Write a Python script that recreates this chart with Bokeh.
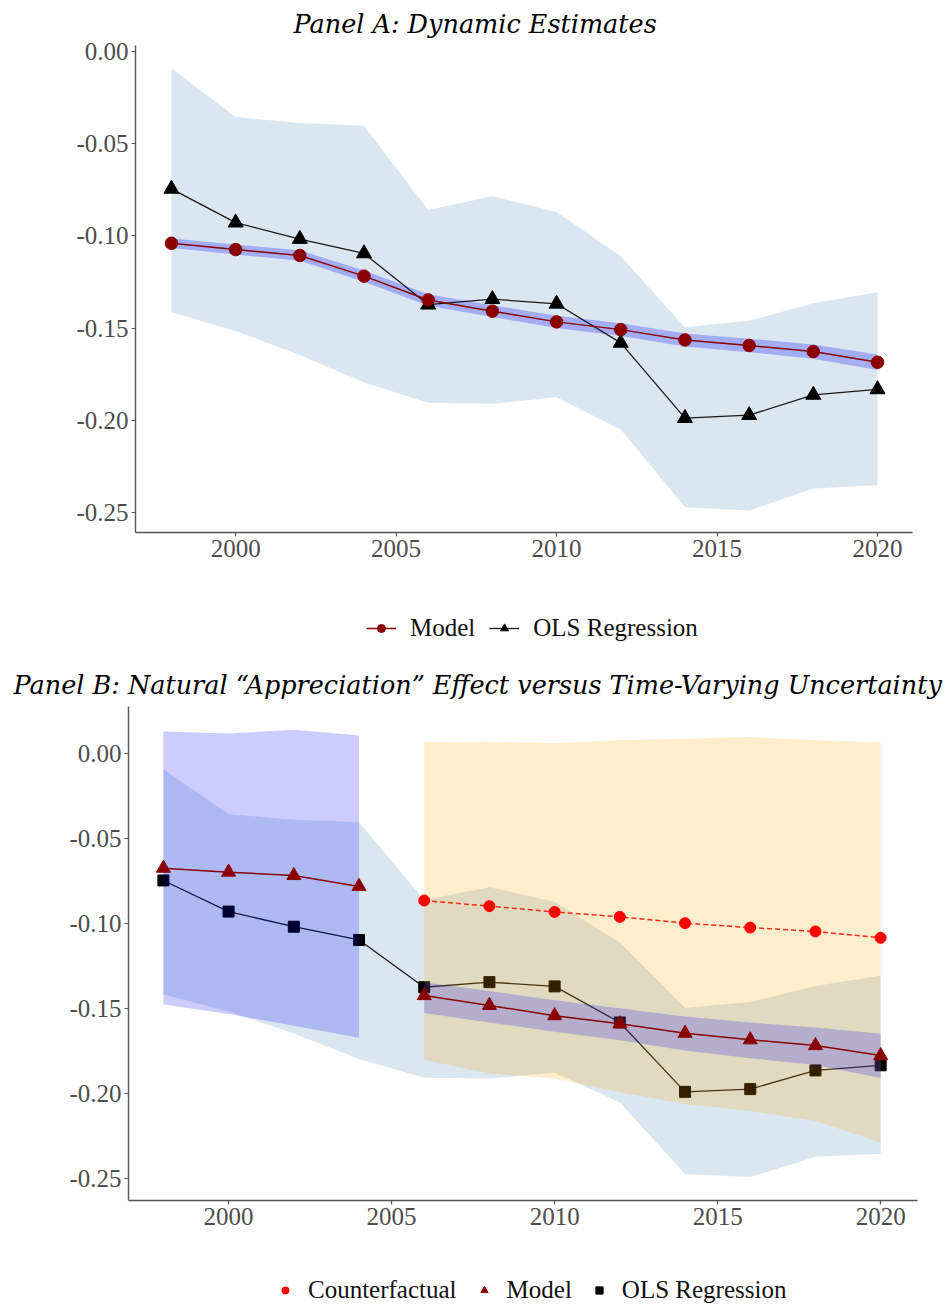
from bokeh.plotting import figure
from bokeh.models import Range1d, FixedTicker, Legend, LegendItem
from bokeh.embed import file_html
from bokeh.resources import INLINE

# ---------------- data ----------------
years = [1998, 2000, 2002, 2004, 2006, 2008, 2010, 2012, 2014, 2016, 2018, 2020]

# OLS regression estimates and confidence band (shared by both panels)
ols_est = [-0.0745, -0.0928, -0.1017, -0.1095, -0.1373, -0.1343,
           -0.1368, -0.1580, -0.1988, -0.1972, -0.1862, -0.1832]
ols_upper = [-0.0091, -0.0355, -0.0388, -0.0403, -0.0860, -0.0785,
             -0.0870, -0.1110, -0.1495, -0.1460, -0.1365, -0.1305]
ols_lower = [-0.1414, -0.1515, -0.1645, -0.1795, -0.1905, -0.1910,
             -0.1875, -0.2050, -0.2471, -0.2489, -0.2370, -0.2352]

# Panel A: dynamic model estimates
model_a = [-0.1040, -0.1074, -0.1106, -0.1218, -0.1347, -0.1408,
           -0.1466, -0.1508, -0.1564, -0.1594, -0.1627, -0.1685]
model_a_upper = [-0.1014, -0.1047, -0.1078, -0.1188, -0.1316, -0.1376,
                 -0.1433, -0.1474, -0.1529, -0.1557, -0.1588, -0.1643]
model_a_lower = [-0.1066, -0.1101, -0.1134, -0.1248, -0.1378, -0.1440,
                 -0.1499, -0.1542, -0.1599, -0.1631, -0.1666, -0.1727]

# Panel B: appreciation effect vs time-varying uncertainty
model_b = [-0.0673, -0.0696, -0.0716, -0.0780, -0.1422, -0.1480,
           -0.1540, -0.1588, -0.1643, -0.1682, -0.1716, -0.1775]

early_years = [1998, 2000, 2002, 2004]
early_upper = [0.0131, 0.0119, 0.0141, 0.0108]
early_lower = [-0.1475, -0.1530, -0.1600, -0.1670]

late_years = [2006, 2008, 2010, 2012, 2014, 2016, 2018, 2020]
counterfactual = [-0.0863, -0.0896, -0.0930, -0.0959, -0.0996, -0.1022, -0.1045, -0.1082]
cf_upper = [0.0068, 0.0070, 0.0062, 0.0080, 0.0088, 0.0098, 0.0080, 0.0068]
cf_lower = [-0.1800, -0.1880, -0.1910, -0.1990, -0.2060, -0.2100, -0.2160, -0.2285]
late_model_upper = [-0.1345, -0.1395, -0.1450, -0.1497, -0.1545, -0.1580, -0.1610, -0.1647]
late_model_lower = [-0.1525, -0.1580, -0.1635, -0.1685, -0.1745, -0.1790, -0.1830, -0.1906]

# axis ticks
x_ticks = [2000, 2005, 2010, 2015, 2020]
y_ticks = [0.0, -0.05, -0.10, -0.15, -0.20, -0.25]
y_tick_labels = ["0.00", "-0.05", "-0.10", "-0.15", "-0.20", "-0.25"]

# ---------------- styling helpers ----------------
TICK_FONT = "Liberation Serif"
TITLE_FONT = "DejaVu Serif"
AXIS_GREY = "#4d4d4d"
DARKRED = "#8b0000"
OLS_COLOR = "#1a1a1a"


def style(p, title_offset):
    p.xgrid.visible = False
    p.ygrid.visible = False
    p.outline_line_color = None
    p.background_fill_color = "white"
    p.border_fill_color = "white"
    for ax in (p.xaxis[0], p.yaxis[0]):
        ax.axis_line_color = "#555555"
        ax.axis_line_width = 1.4
        ax.major_tick_line_color = "#555555"
        ax.major_tick_line_width = 1.2
        ax.major_tick_out = 4
        ax.major_tick_in = 0
        ax.minor_tick_line_color = None
        ax.major_label_text_font = TICK_FONT
        ax.major_label_text_font_size = "25px"
        ax.major_label_text_color = AXIS_GREY
        ax.major_label_standoff = 3
    p.xaxis[0].ticker = FixedTicker(ticks=x_ticks)
    p.yaxis[0].ticker = FixedTicker(ticks=y_ticks)
    p.yaxis[0].major_label_overrides = {t: s for t, s in zip(y_ticks, y_tick_labels)}
    p.xaxis[0].major_label_overrides = {t: str(t) for t in x_ticks}
    p.title.align = "left"
    p.title.offset = title_offset
    p.title.text_font = TITLE_FONT
    p.title.text_font_style = "italic"
    p.title.text_font_size = "25.5px"
    p.title.text_color = "black"
    p.title.standoff = 13


def legend_figure(height):
    # a strip whose ranges keep its series out of view: only the legend shows
    f = figure(width=948, height=height, min_border=0,
               x_range=Range1d(0, 1), y_range=Range1d(0, 1),
               x_axis_location=None, y_axis_location=None,
               output_backend="svg", toolbar_location=None)
    f.xgrid.visible = False
    f.ygrid.visible = False
    f.outline_line_color = None
    return f


def make_legend(items, loc, glyph_width, standoff, spacing):
    return Legend(items=items, location=loc, orientation="horizontal",
                  label_text_font=TICK_FONT, label_text_font_size="25px",
                  label_text_color="#111111", glyph_width=glyph_width,
                  glyph_height=20, label_standoff=standoff, spacing=spacing,
                  padding=0, margin=0, border_line_color=None,
                  background_fill_alpha=0)


# ---------------- Panel A ----------------
pa = figure(width=948, height=600, min_border_left=135, min_border_right=36,
            min_border_top=45, min_border_bottom=68,
            x_range=Range1d(1996.88, 2021.09), y_range=Range1d(-0.2608, 0.00325),
            title="Panel A: Dynamic Estimates",
            output_backend="svg", toolbar_location=None)
style(pa, 158)

pa.varea(x=years, y1=ols_lower, y2=ols_upper, fill_color="#4682b4", fill_alpha=0.2)
pa.varea(x=years, y1=model_a_lower, y2=model_a_upper, fill_color="#0000ff", fill_alpha=0.25)
pa.line(years, ols_est, line_color=OLS_COLOR, line_width=1.3)
pa.scatter(years, ols_est, marker="triangle", size=15, fill_color="black", line_color="black")
pa.line(years, model_a, line_color=DARKRED, line_width=1.5)
pa.scatter(years, model_a, marker="circle", size=12.5, fill_color=DARKRED, line_color=DARKRED)

# legend strip for panel A
la = legend_figure(50)
la_mod_line = la.line(years, model_a, line_color=DARKRED, line_width=1.5)
la_mod_pts = la.scatter(years, model_a, marker="circle", size=11, fill_color=DARKRED, line_color=DARKRED)
la_ols_line = la.line(years, ols_est, line_color=OLS_COLOR, line_width=1.3)
la_ols_pts = la.scatter(years, ols_est, marker="triangle", size=12, fill_color="black", line_color="black")
la.add_layout(make_legend([LegendItem(label="Model", renderers=[la_mod_line, la_mod_pts]),
                           LegendItem(label="OLS Regression", renderers=[la_ols_line, la_ols_pts])],
                          (366, 8), 30, 14, 14))

# ---------------- Panel B ----------------
pb = figure(width=948, height=600, min_border_left=128, min_border_right=31,
            min_border_top=56, min_border_bottom=50,
            x_range=Range1d(1996.93, 2021.13), y_range=Range1d(-0.2627, 0.0278),
            title="Panel B: Natural \u201cAppreciation\u201d Effect versus Time-Varying Uncertainty",
            output_backend="svg", toolbar_location=None)
style(pb, -115)

pb.varea(x=years, y1=ols_lower, y2=ols_upper, fill_color="#4682b4", fill_alpha=0.2)
pb.line(years, ols_est, line_color=OLS_COLOR, line_width=1.3)
pb.scatter(years, ols_est, marker="square", size=11, fill_color="black", line_color="black")

# uncertainty regimes drawn over the regression series
pb.varea(x=early_years, y1=early_lower, y2=early_upper, fill_color="#0000ff", fill_alpha=0.2)
pb.varea(x=late_years, y1=cf_lower, y2=cf_upper, fill_color="#ffa500", fill_alpha=0.2)
pb.varea(x=late_years, y1=late_model_lower, y2=late_model_upper, fill_color="#0000ff", fill_alpha=0.2)

pb.line(years[:4], model_b[:4], line_color=DARKRED, line_width=1.5)
pb.line(years[4:], model_b[4:], line_color=DARKRED, line_width=1.5)
pb.scatter(years, model_b, marker="triangle", size=14, fill_color=DARKRED, line_color=DARKRED)

pb.line(late_years, counterfactual, line_color="#ff2a1a", line_width=1.5, line_dash="5 3")
pb.scatter(late_years, counterfactual, marker="circle", size=11, fill_color="#ff0000", line_color="#ff0000")

# legend strip for panel B
lb = legend_figure(58)
lb_cf = lb.scatter(late_years, counterfactual, marker="circle", size=10, fill_color="#ff0000", line_color="#ff0000")
lb_mod = lb.scatter(years, model_b, marker="triangle", size=12, fill_color=DARKRED, line_color=DARKRED)
lb_ols = lb.scatter(years, ols_est, marker="square", size=9, fill_color="black", line_color="black")
lb.add_layout(make_legend([LegendItem(label="Counterfactual", renderers=[lb_cf]),
                           LegendItem(label="Model", renderers=[lb_mod]),
                           LegendItem(label="OLS Regression", renderers=[lb_ols])],
                          (276, 4), 18, 14, 18))

open("out.html", "w").write(file_html([pa, la, pb, lb], INLINE))
